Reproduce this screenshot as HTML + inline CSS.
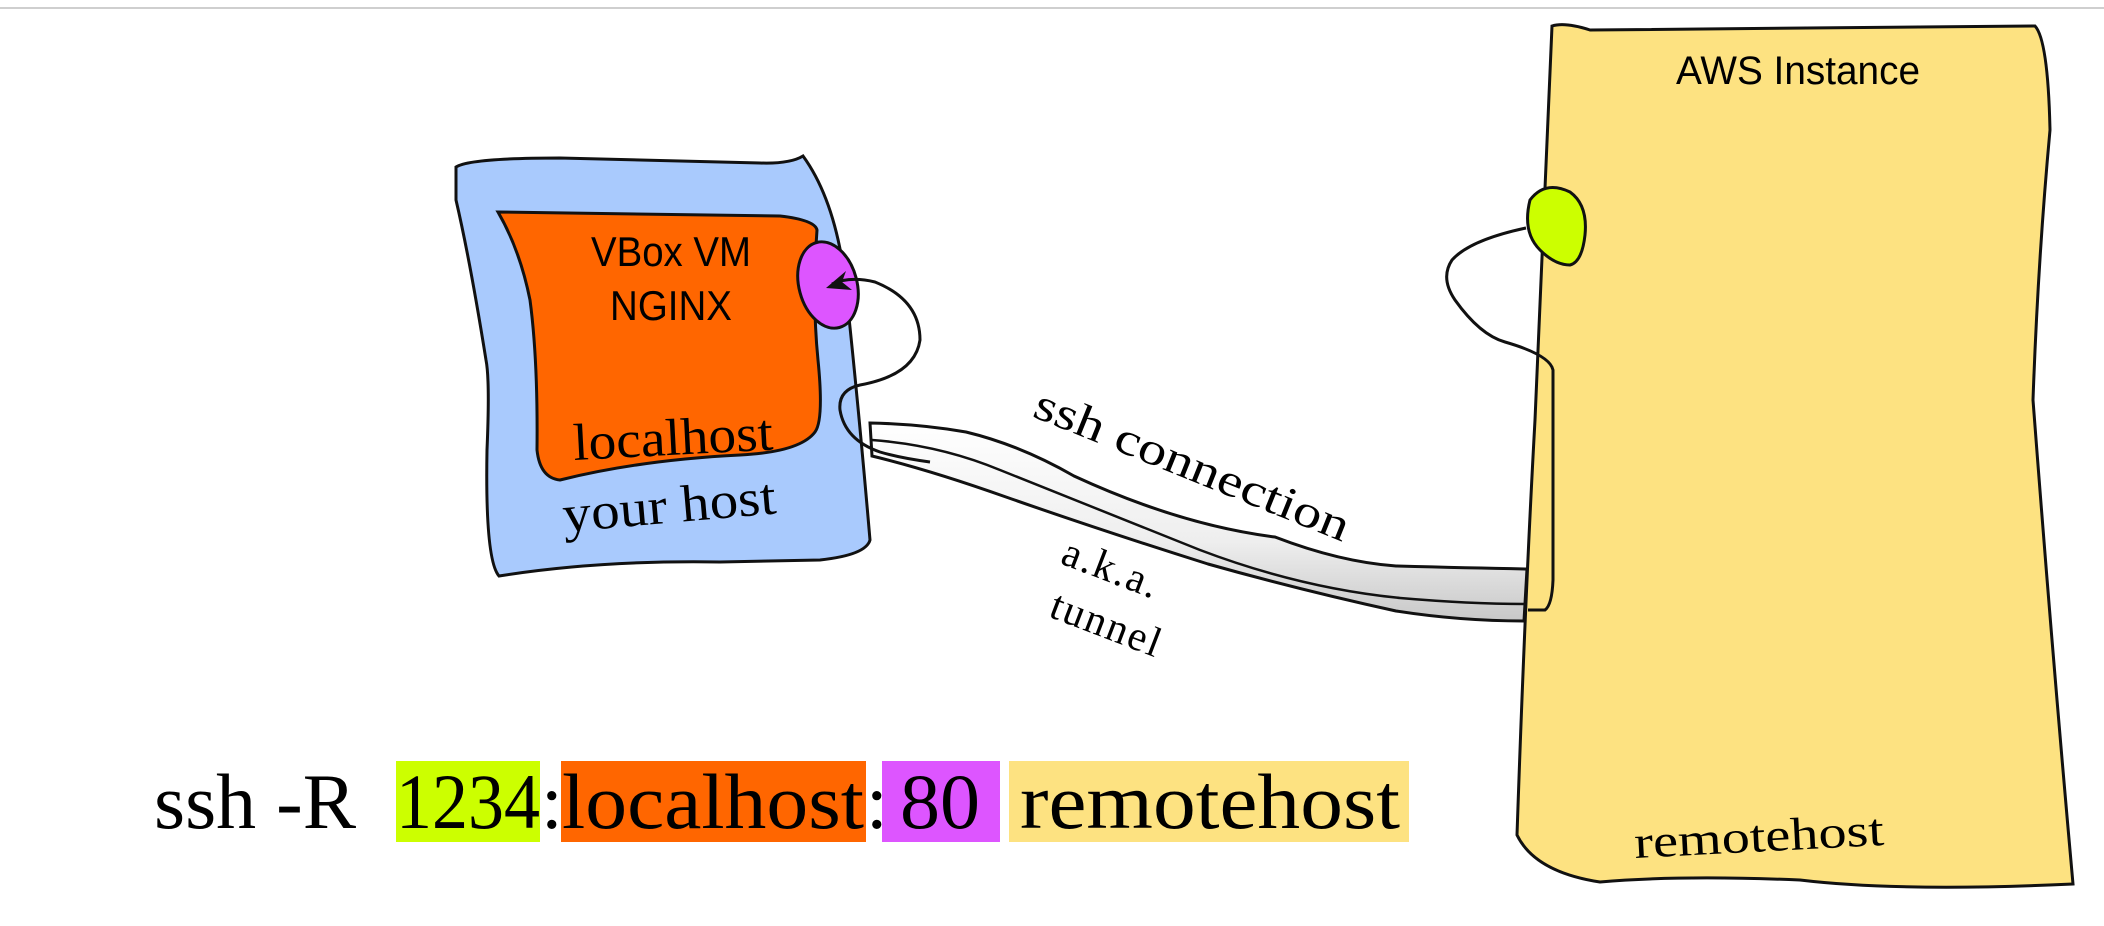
<!DOCTYPE html>
<html><head><meta charset="utf-8"><style>
html,body{margin:0;padding:0;background:#fff;}
svg{display:block;}
.sans{font-family:"Liberation Sans",sans-serif;}
.serif{font-family:"Liberation Serif",serif;}
</style></head><body>
<svg width="2104" height="926" viewBox="0 0 2104 926" xmlns="http://www.w3.org/2000/svg">
<defs>
<linearGradient id="tg" x1="0" y1="0" x2="0" y2="1">
<stop offset="0" stop-color="#ffffff"/><stop offset="0.6" stop-color="#eeeeee"/><stop offset="1" stop-color="#c8c8c8"/>
</linearGradient>
</defs>
<line x1="0" y1="8" x2="2104" y2="8" stroke="#cfcfcf" stroke-width="2"/>

<path d="M1552,26 Q1565,22 1590,30 L2035,26 Q2048,40 2050,130 Q2038,260 2033,400 Q2052,650 2073,884 Q1900,892 1800,880 Q1680,875 1600,882 Q1535,872 1517,835 Q1525,600 1535,420 Q1545,200 1552,26 Z" fill="#fde281" stroke="#111" stroke-width="3"/>
<text x="1798" y="84" class="sans" font-size="40" text-anchor="middle" textLength="244" lengthAdjust="spacingAndGlyphs">AWS Instance</text>
<text x="1635" y="858" class="serif" font-size="46" textLength="250" lengthAdjust="spacingAndGlyphs" transform="rotate(-3 1635 858)">remotehost</text>

<path d="M870,423 Q920,424 966,432 Q1020,445 1074,476 Q1180,525 1275,537 Q1340,562 1396,566 Q1470,568 1527,569 L1524,621 Q1460,621 1396,611 Q1300,590 1208,564 Q1100,530 1006,497 Q930,470 872,456 Z" fill="url(#tg)" stroke="#111" stroke-width="3"/>
<path d="M872,440 Q940,445 1000,470 Q1100,510 1200,550 Q1300,588 1400,598 Q1470,604 1527,604" fill="none" stroke="#111" stroke-width="2.5"/>

<path d="M456,167 Q470,158 560,158 L760,163 Q790,164 803,156 Q835,200 845,280 Q858,400 870,540 Q866,555 820,560 L720,562 Q600,560 499,576 Q485,560 487,450 Q490,380 486,360 Q470,260 456,200 Z" fill="#a9cafd" stroke="#111" stroke-width="3"/>
<path d="M498,212 L780,216 Q815,220 817,230 Q812,300 818,360 Q824,420 815,432 Q800,452 740,455 Q640,460 560,480 Q540,478 537,450 Q538,360 530,300 Q520,250 498,212 Z" fill="#ff6600" stroke="#111" stroke-width="3"/>
<text x="671" y="266" class="sans" font-size="42" text-anchor="middle" textLength="160" lengthAdjust="spacingAndGlyphs">VBox VM</text>
<text x="671" y="320" class="sans" font-size="42" text-anchor="middle" textLength="122" lengthAdjust="spacingAndGlyphs">NGINX</text>
<text x="574" y="460" class="serif" font-size="52" textLength="200" lengthAdjust="spacingAndGlyphs" transform="rotate(-3 574 460)">localhost</text>
<text x="564" y="532" class="serif" font-size="52" textLength="214" lengthAdjust="spacingAndGlyphs" transform="rotate(-5 564 532)">your host</text>

<ellipse cx="828" cy="285" rx="29" ry="44" transform="rotate(-15 828 285)" fill="#dd55ff" stroke="#111" stroke-width="3"/>
<path d="M832,284 Q850,276 875,282 Q920,300 920,340 Q915,375 860,385 Q838,390 840,410 Q845,440 880,452 Q900,458 930,462" fill="none" stroke="#111" stroke-width="3"/>
<path d="M826,288 L846,271 L842,282 L852,290 Z" fill="#111"/>

<path d="M1530,200 Q1545,180 1570,192 Q1588,205 1585,235 Q1582,262 1570,265 Q1555,265 1540,250 Q1522,232 1530,200 Z" fill="#ccff00" stroke="#111" stroke-width="3"/>
<path d="M1526,228 Q1470,240 1452,260 Q1440,278 1455,300 Q1480,335 1505,342 Q1550,355 1553,370 L1553,580 Q1552,605 1545,610 L1528,610" fill="none" stroke="#111" stroke-width="3"/>

<text x="1031" y="416" class="serif" font-size="46" textLength="336" lengthAdjust="spacingAndGlyphs" transform="rotate(22 1031 416)">ssh connection</text>
<text x="1111" y="582" class="serif" font-size="42" text-anchor="middle" transform="rotate(21 1111 570)" letter-spacing="2">a.k.a.</text>
<text x="1107" y="638" class="serif" font-size="42" text-anchor="middle" transform="rotate(21 1107 624)" letter-spacing="2">tunnel</text>

<rect x="396" y="761" width="144" height="81" fill="#ccff00"/>
<rect x="561" y="761" width="305" height="81" fill="#ff6600"/>
<rect x="882" y="761" width="118" height="81" fill="#dd55ff"/>
<rect x="1009" y="761" width="400" height="81" fill="#fde281"/>
<text x="154" y="828" class="serif" font-size="78" textLength="202" lengthAdjust="spacingAndGlyphs">ssh -R</text>
<text x="396" y="828" class="serif" font-size="78" textLength="144" lengthAdjust="spacingAndGlyphs">1234</text>
<text x="541" y="828" class="serif" font-size="78">:</text>
<text x="562" y="828" class="serif" font-size="78" textLength="302" lengthAdjust="spacingAndGlyphs">localhost</text>
<text x="866" y="828" class="serif" font-size="78">:</text>
<text x="900" y="828" class="serif" font-size="78" textLength="80" lengthAdjust="spacingAndGlyphs">80</text>
<text x="1020" y="828" class="serif" font-size="78" textLength="380" lengthAdjust="spacingAndGlyphs">remotehost</text>
</svg>
</body></html>
